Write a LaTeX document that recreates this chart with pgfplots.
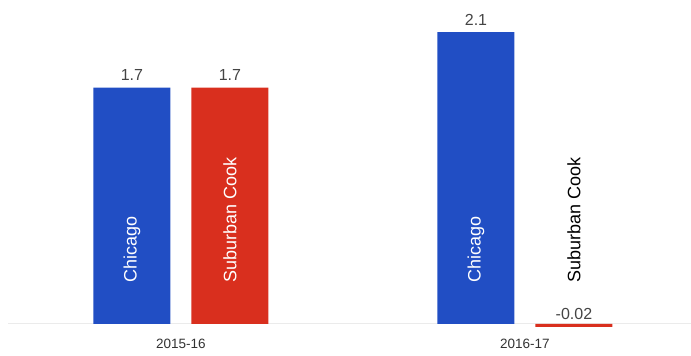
\documentclass[border=0pt]{standalone}
\usepackage{pgfplots}
\pgfplotsset{compat=1.18}
\usepackage{fontspec}
\setmainfont{Liberation Sans}
\definecolor{cblue}{HTML}{214EC4}
\definecolor{cred}{HTML}{D92F1E}
\definecolor{lbl}{HTML}{444444}
\definecolor{tick}{HTML}{333333}
\definecolor{base}{HTML}{EBEBEB}
\begin{document}
\begin{tikzpicture}
\path[use as bounding box] (0pt,0pt) rectangle (691pt,356pt);
\begin{axis}[
  at={(0pt,26pt)}, anchor=south west,
  scale only axis, width=691pt, height=330pt,
  xmin=-0.526, xmax=1.4826, ymin=-0.0432, ymax=2.331,
  axis line style={draw=none},
  ytick=\empty,
  xtick={0,1}, xticklabels={2015-16,2016-17},
  major tick length=0pt,
  xticklabel style={inner sep=0pt, anchor=north, yshift=-9pt, text=tick, font=\fontsize{13.5}{15}\selectfont},
  clip=false,
  point meta=explicit symbolic,
  nodes near coords,
  every node near coord/.append style={anchor=base, inner sep=0pt, yshift=7pt, text=lbl, font=\fontsize{16}{18}\selectfont},
]
\draw[color=base, line width=1pt] (axis cs:-0.503,0) -- (axis cs:1.4826,0);
\addplot[ybar, bar width=77pt, bar shift=-49pt, fill=cblue, draw=none,
  every node near coord/.append style={xshift=-49pt}]
  coordinates {(0,1.7) [1.7] (1,2.1) [2.1]};
\addplot[ybar, bar width=77pt, bar shift=49pt, fill=cred, draw=none,
  every node near coord/.append style={xshift=49pt}]
  coordinates {(0,1.7) [1.7] (1,-0.02) [-0.02]};
\node[rotate=90, anchor=west, inner sep=0pt, text=white, font=\fontsize{18}{20}\selectfont] at ([xshift=-49pt,yshift=41pt]axis cs:0,0) {Chicago};
\node[rotate=90, anchor=west, inner sep=0pt, text=white, font=\fontsize{18}{20}\selectfont] at ([xshift=49pt,yshift=41pt]axis cs:0,0) {Suburban Cook};
\node[rotate=90, anchor=west, inner sep=0pt, text=white, font=\fontsize{18}{20}\selectfont] at ([xshift=-49pt,yshift=41pt]axis cs:1,0) {Chicago};
\node[rotate=90, anchor=west, inner sep=0pt, text=black, font=\fontsize{18}{20}\selectfont] at ([xshift=49pt,yshift=41pt]axis cs:1,0) {Suburban Cook};
\end{axis}
\end{tikzpicture}
\end{document}
